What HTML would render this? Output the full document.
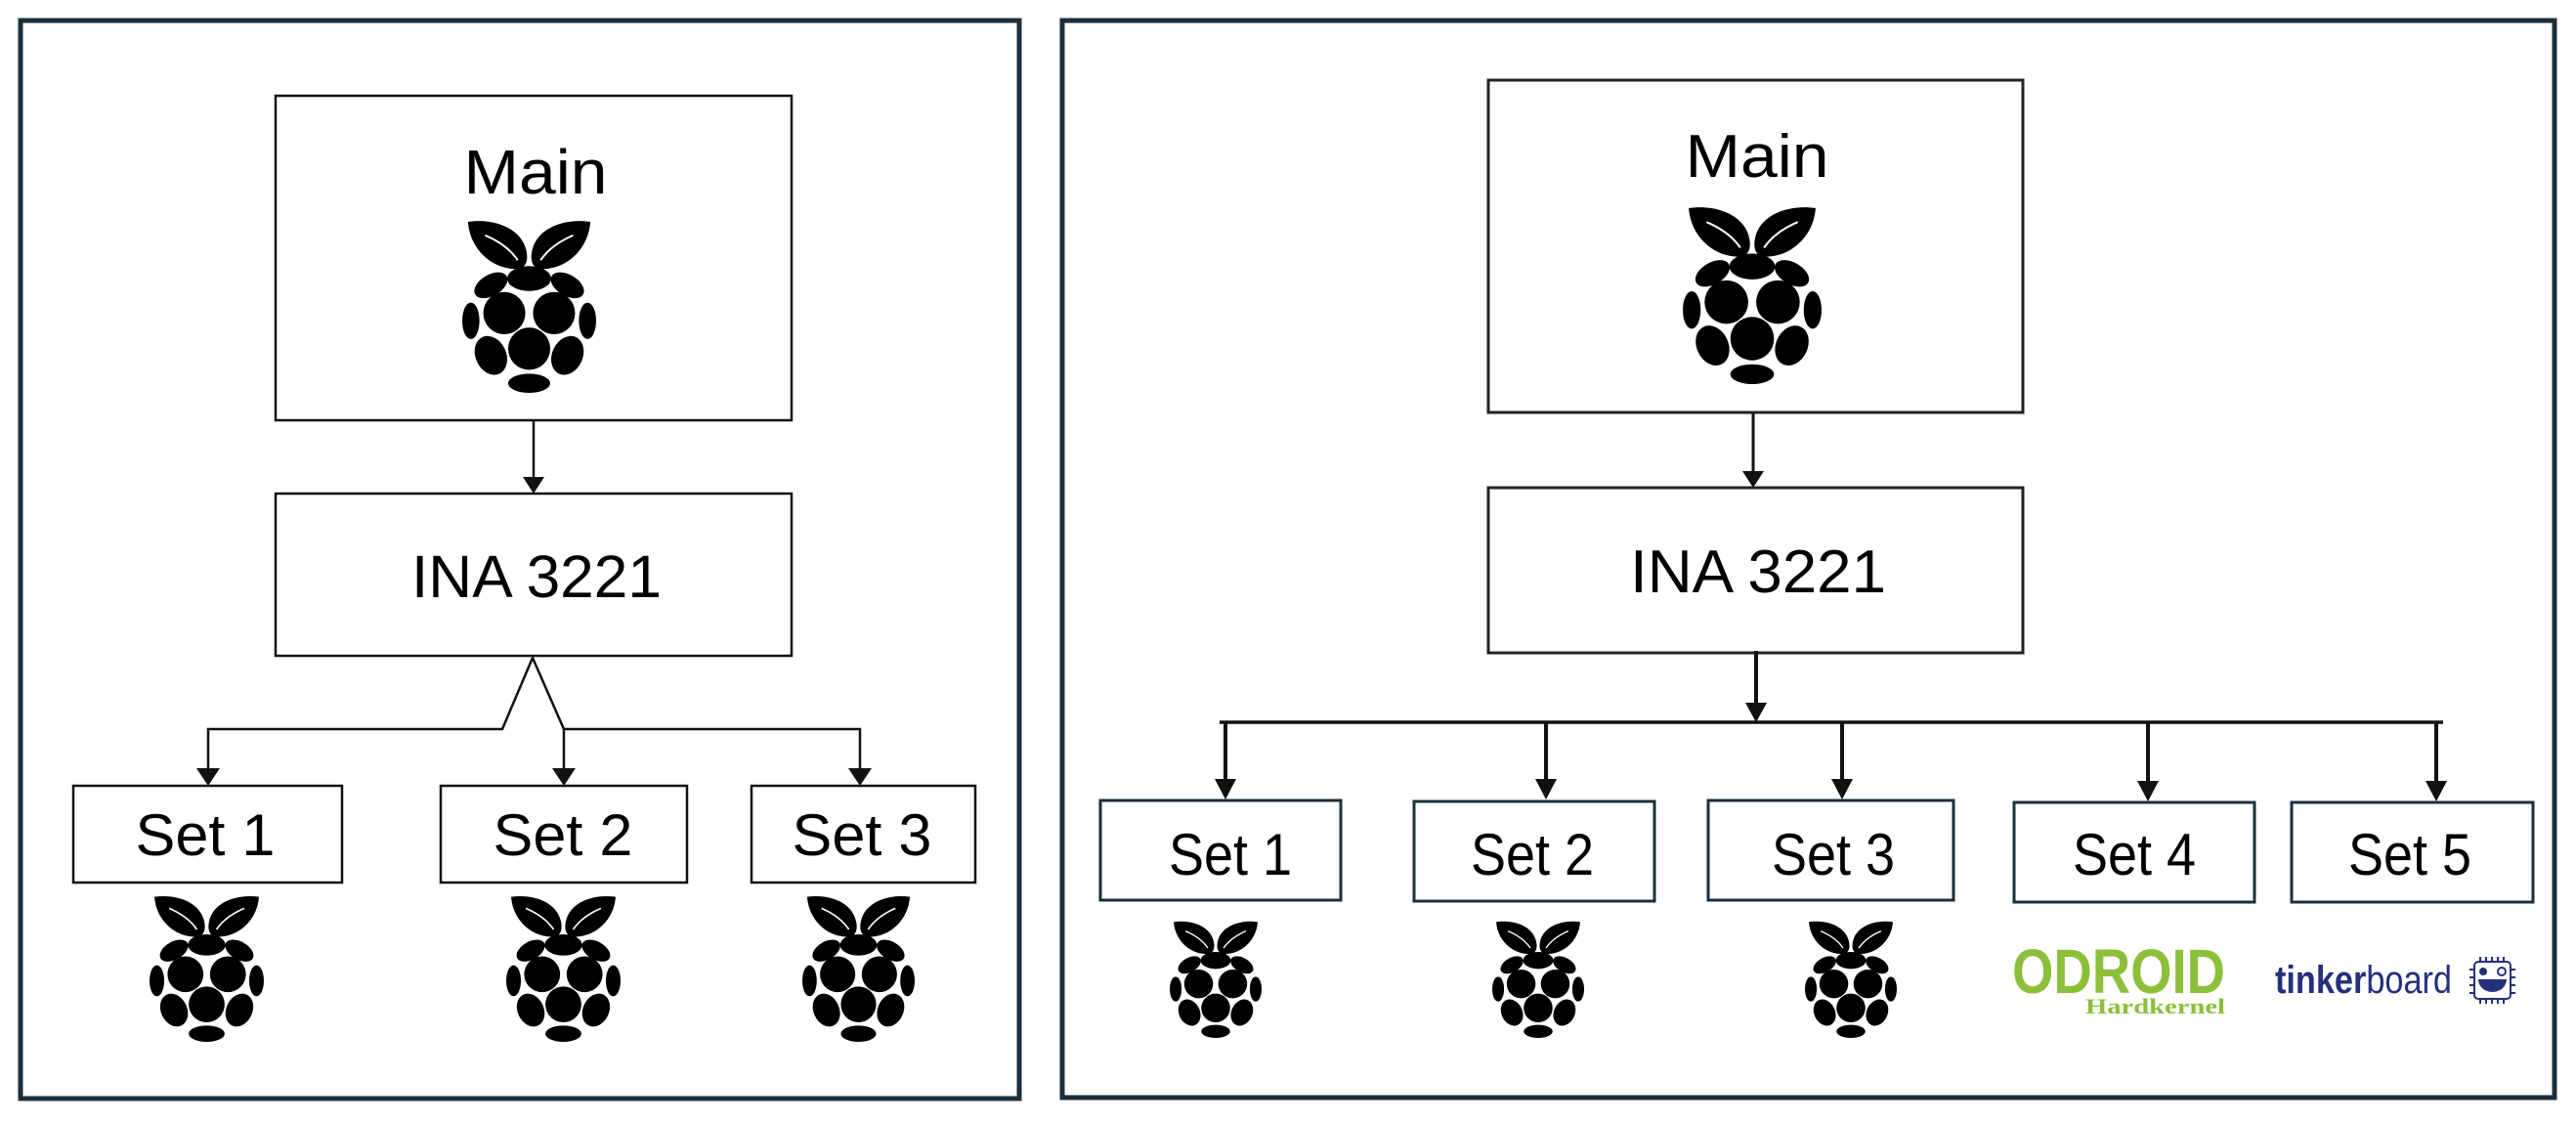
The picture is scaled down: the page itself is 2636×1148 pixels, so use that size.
<!DOCTYPE html>
<html><head><meta charset="utf-8"><style>
html,body{margin:0;padding:0;background:#fff;}
svg{display:block;}
</style></head><body>
<svg width="2636" height="1148" viewBox="0 0 2636 1148" xmlns="http://www.w3.org/2000/svg">
<defs>
<symbol id="rpi" viewBox="0 0 140 180" preserveAspectRatio="none">
  <g fill="#000">
    <path d="M6,2 C32,-2 62,8 67,32 C70,46 64,52 54,51 C30,50 8,30 6,2 Z"/>
    <path d="M134,2 C108,-2 78,8 73,32 C70,46 76,52 86,51 C110,50 132,30 134,2 Z"/>
    <ellipse cx="70" cy="61" rx="23" ry="13"/>
    <ellipse cx="30" cy="68" rx="19" ry="11" transform="rotate(-30 30 68)"/>
    <ellipse cx="110" cy="68" rx="19" ry="11" transform="rotate(30 110 68)"/>
    <circle cx="44" cy="97" r="22"/>
    <circle cx="96" cy="97" r="22"/>
    <ellipse cx="9" cy="105" rx="9" ry="19"/>
    <ellipse cx="131" cy="105" rx="9" ry="19"/>
    <circle cx="70" cy="134" r="22"/>
    <ellipse cx="30" cy="141" rx="16" ry="21" transform="rotate(-25 30 141)"/>
    <ellipse cx="110" cy="141" rx="16" ry="21" transform="rotate(25 110 141)"/>
    <ellipse cx="70" cy="170" rx="22" ry="10"/>
  </g>
  <g stroke="#fff" stroke-width="2" fill="none">
    <path d="M24,16 C38,22 50,30 58,42"/>
    <path d="M116,16 C102,22 90,30 82,42"/>
  </g>
</symbol>
</defs>

<!-- LEFT PANEL -->
<rect x="21" y="21" width="1022" height="1103" fill="none" stroke="#1b2f3c" stroke-width="5"/>
<rect x="282" y="98" width="528" height="332" fill="none" stroke="#111" stroke-width="2.5"/>
<text x="548" y="198" font-family="Liberation Sans, sans-serif" font-size="64" text-anchor="middle" textLength="147" lengthAdjust="spacingAndGlyphs">Main</text>
<use href="#rpi" x="473" y="225" width="137" height="177"/>
<line x1="546" y1="430" x2="546" y2="490" stroke="#111" stroke-width="2.5"/>
<polygon points="535,488 557,488 546,505" fill="#111"/>
<rect x="282" y="505" width="528" height="166" fill="none" stroke="#111" stroke-width="2.5"/>
<text x="549" y="611" font-family="Liberation Sans, sans-serif" font-size="61" text-anchor="middle" textLength="256" lengthAdjust="spacingAndGlyphs">INA 3221</text>
<polyline points="213,790 213,746 514,746 545,673 577,746 880,746 880,790" fill="none" stroke="#111" stroke-width="2.5"/>
<line x1="577" y1="746" x2="577" y2="790" stroke="#111" stroke-width="2.5"/>
<polygon points="201,786 225,786 213,804" fill="#111"/>
<polygon points="565,786 589,786 577,804" fill="#111"/>
<polygon points="868,786 892,786 880,804" fill="#111"/>
<rect x="75" y="804" width="275" height="99" fill="none" stroke="#111" stroke-width="2.5"/>
<rect x="451" y="804" width="252" height="99" fill="none" stroke="#111" stroke-width="2.5"/>
<rect x="769" y="804" width="229" height="99" fill="none" stroke="#111" stroke-width="2.5"/>
<g font-family="Liberation Sans, sans-serif" font-size="60" text-anchor="middle">
<text x="210" y="875" textLength="143" lengthAdjust="spacingAndGlyphs">Set 1</text>
<text x="576" y="875" textLength="143" lengthAdjust="spacingAndGlyphs">Set 2</text>
<text x="882" y="875" textLength="143" lengthAdjust="spacingAndGlyphs">Set 3</text>
</g>
<use href="#rpi" x="153" y="916" width="117" height="150"/>
<use href="#rpi" x="518" y="916" width="117" height="150"/>
<use href="#rpi" x="821" y="916" width="115" height="150"/>

<!-- RIGHT PANEL -->
<rect x="1087" y="21" width="1527" height="1102" fill="none" stroke="#1b2f3c" stroke-width="5"/>
<rect x="1523" y="82" width="547" height="340" fill="none" stroke="#222" stroke-width="3"/>
<text x="1798" y="181" font-family="Liberation Sans, sans-serif" font-size="62" text-anchor="middle" textLength="147" lengthAdjust="spacingAndGlyphs">Main</text>
<use href="#rpi" x="1722" y="211" width="142" height="182"/>
<line x1="1794" y1="422" x2="1794" y2="484" stroke="#111" stroke-width="3"/>
<polygon points="1783,482 1805,482 1794,499" fill="#111"/>
<rect x="1523" y="499" width="547" height="169" fill="none" stroke="#222" stroke-width="3"/>
<text x="1799" y="606" font-family="Liberation Sans, sans-serif" font-size="62" text-anchor="middle" textLength="262" lengthAdjust="spacingAndGlyphs">INA 3221</text>
<line x1="1797" y1="666" x2="1797" y2="722" stroke="#111" stroke-width="4"/>
<polygon points="1786,719 1808,719 1797,739" fill="#111"/>
<line x1="1248" y1="739" x2="2500" y2="739" stroke="#111" stroke-width="3.5"/>
<g stroke="#111" stroke-width="4">
<line x1="1254" y1="739" x2="1254" y2="800"/>
<line x1="1582" y1="739" x2="1582" y2="800"/>
<line x1="1885" y1="739" x2="1885" y2="800"/>
<line x1="2198" y1="739" x2="2198" y2="800"/>
<line x1="2493" y1="739" x2="2493" y2="800"/>
</g>
<g fill="#111">
<polygon points="1243,797 1265,797 1254,818"/>
<polygon points="1571,797 1593,797 1582,818"/>
<polygon points="1874,797 1896,797 1885,818"/>
<polygon points="2187,799 2209,799 2198,820"/>
<polygon points="2482,799 2504,799 2493,820"/>
</g>
<g fill="none" stroke="#1b2f3c" stroke-width="3">
<rect x="1126" y="819" width="246" height="102"/>
<rect x="1447" y="820" width="246" height="102"/>
<rect x="1748" y="819" width="251" height="102"/>
<rect x="2061" y="821" width="246" height="102"/>
<rect x="2345" y="821" width="247" height="102"/>
</g>
<g font-family="Liberation Sans, sans-serif" font-size="60" text-anchor="middle">
<text x="1259" y="895" textLength="126" lengthAdjust="spacingAndGlyphs">Set 1</text>
<text x="1568" y="895" textLength="126" lengthAdjust="spacingAndGlyphs">Set 2</text>
<text x="1876" y="895" textLength="126" lengthAdjust="spacingAndGlyphs">Set 3</text>
<text x="2184" y="895" textLength="126" lengthAdjust="spacingAndGlyphs">Set 4</text>
<text x="2466" y="895" textLength="126" lengthAdjust="spacingAndGlyphs">Set 5</text>
</g>
<use href="#rpi" x="1197" y="942" width="94" height="120"/>
<use href="#rpi" x="1527" y="942" width="94" height="120"/>
<use href="#rpi" x="1847" y="942" width="94" height="120"/>

<!-- ODROID logo -->
<text x="2059" y="1016" font-family="Liberation Sans, sans-serif" font-weight="bold" font-size="64" fill="#8cbf3a" textLength="218" lengthAdjust="spacingAndGlyphs">ODROID</text>
<text x="2134" y="1037" font-family="Liberation Serif, serif" font-weight="bold" font-size="22" fill="#8cbf3a" textLength="143" lengthAdjust="spacingAndGlyphs">Hardkernel</text>

<!-- tinkerboard logo -->
<text x="2328" y="1016" font-family="Liberation Sans, sans-serif" font-size="40" fill="#24307a" textLength="181" lengthAdjust="spacingAndGlyphs"><tspan font-weight="bold">tinker</tspan>board</text>
<g stroke="#24307a" stroke-width="2" fill="none">
<rect x="2532" y="984" width="37" height="38" rx="4"/>
<path d="M2538,984 v-5 M2544,984 v-5 M2550,984 v-5 M2556,984 v-5 M2562,984 v-5 M2538,1022 v5 M2544,1022 v5 M2550,1022 v5 M2556,1022 v5 M2562,1022 v5 M2532,992 h-5 M2532,1000 h-5 M2532,1008 h-5 M2532,1016 h-5 M2569,992 h5 M2569,1000 h5 M2569,1008 h5 M2569,1016 h5"/>
</g>
<circle cx="2541" cy="994" r="4" fill="#24307a"/>
<circle cx="2560" cy="994" r="4" fill="none" stroke="#24307a" stroke-width="2"/>
<path d="M2536,1002 h29 a14.5,13 0 0 1 -29,0 Z" fill="#24307a"/>
</svg>
</body></html>
